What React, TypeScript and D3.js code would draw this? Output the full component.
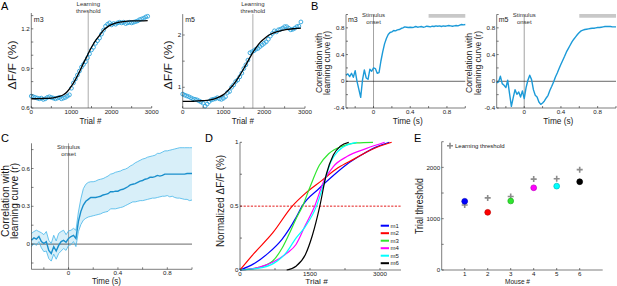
import React from 'react';
import * as d3 from 'd3';

const FONT = '"Liberation Sans", Arial, Helvetica, sans-serif';
const AX = '#262626';
const TXT = '#1a1a1a';
const BLUE = '#1b9ad8';
const TICK_FS = 6.2;

// ---------------- Panel A data ----------------
const trialGridA = d3.range(0, 2901, 50);
const fitGridA = d3.range(0, 2901, 100);
const m3DotsA = [0.69, 0.685, 0.68, 0.675, 0.67, 0.675, 0.665, 0.67, 0.68, 0.685, 0.68, 0.675, 0.67, 0.675, 0.68, 0.67, 0.675, 0.68, 0.69, 0.70,
  0.75, 0.79, 0.82, 0.85, 0.88, 0.91, 0.93, 0.95, 0.98, 1.01, 1.04, 1.06, 1.09, 1.11, 1.13, 1.16, 1.19, 1.22, 1.235, 1.245,
  1.23, 1.24, 1.235, 1.245, 1.25, 1.245, 1.25, 1.24, 1.245, 1.25, 1.245, 1.25, 1.255, 1.26, 1.27, 1.275, 1.28, 1.29, 1.295];
const m3FitA = [0.67, 0.67, 0.671, 0.672, 0.673, 0.675, 0.68, 0.688, 0.7, 0.725, 0.765, 0.815, 0.875, 0.94, 1.0, 1.06, 1.11, 1.15, 1.19, 1.215,
  1.232, 1.243, 1.25, 1.255, 1.258, 1.26, 1.26, 1.261, 1.261, 1.262];
const m5DotsA = [0.87, 0.85, 0.835, 0.82, 0.8, 0.78, 0.77, 0.76, 0.74, 0.72, 0.695, 0.64, 0.68, 0.725, 0.76, 0.77, 0.78, 0.8, 0.78, 0.77,
  0.79, 0.82, 0.9, 0.92, 1.0, 1.045, 1.11, 1.14, 1.2, 1.27, 1.36, 1.43, 1.52, 1.66, 1.68, 1.7, 1.73, 1.745, 1.78, 1.81,
  1.84, 1.87, 1.92, 1.98, 2.03, 2.08, 2.06, 2.1, 2.11, 2.13, 2.16, 2.16, 2.13, 2.1, 2.11, 2.13, 2.16, 2.17, 2.25];
const m5FitA = [0.73, 0.73, 0.73, 0.735, 0.74, 0.745, 0.75, 0.765, 0.785, 0.815, 0.86, 0.93, 1.01, 1.11, 1.23, 1.36, 1.5, 1.64, 1.76, 1.86,
  1.93, 1.99, 2.03, 2.06, 2.08, 2.1, 2.11, 2.12, 2.125, 2.13];
const m3ThresholdA = 1420;
const m5ThresholdA = 1720;

// ---------------- Panel B / C data ----------------
const timeGrid = d3.range(0, 66).map((i) => -0.3 + i * 0.02);
const m3CorrB = [0.09, 0.11, 0.07, 0.12, 0.06, 0.16, 0.0, -0.12, -0.24, 0.02, 0.17, 0.05, 0.03, 0.18, 0.15,
  0.2, 0.19, 0.12, 0.13, 0.3, 0.44, 0.56, 0.64, 0.7, 0.73, 0.74, 0.76, 0.755, 0.77, 0.775, 0.79, 0.8, 0.815, 0.81, 0.805,
  0.81, 0.805, 0.81, 0.82, 0.81, 0.815, 0.82, 0.81, 0.815, 0.825, 0.82, 0.815, 0.825, 0.82, 0.83, 0.825, 0.83, 0.82, 0.83,
  0.825, 0.83, 0.835, 0.83, 0.825, 0.83, 0.835, 0.83, 0.84, 0.85, 0.845, 0.85];
const m5CorrB = [-0.025, -0.01, 0.075, -0.035, -0.06, -0.095, 0.015, -0.185, -0.375, -0.245, -0.125, -0.195, -0.16, -0.235, -0.145,
  -0.26, -0.095, 0.015, 0.09, 0.025, -0.125, -0.21, -0.235, -0.31, -0.345, -0.325, -0.295, -0.25, -0.21, -0.135, -0.075,
  -0.01, 0.065, 0.125, 0.19, 0.255, 0.315, 0.375, 0.44, 0.49, 0.54, 0.59, 0.63, 0.665, 0.7, 0.73, 0.755, 0.765, 0.775, 0.78,
  0.785, 0.79, 0.795, 0.795, 0.8, 0.805, 0.805, 0.81, 0.815, 0.82, 0.82, 0.82, 0.82, 0.815, 0.815, 0.815];
const meanCorrC = [0.03, 0.05, 0.04, 0.06, 0.02, 0.005, 0.02, -0.05, -0.075, -0.02, -0.055, -0.01, 0.02, 0.03, 0.015,
  0.045, 0.06, 0.07, 0.045, 0.18, 0.26, 0.31, 0.34, 0.355, 0.37, 0.37, 0.37, 0.375, 0.38, 0.39, 0.395, 0.4, 0.415, 0.415, 0.42,
  0.42, 0.43, 0.435, 0.445, 0.455, 0.47, 0.475, 0.48, 0.49, 0.5, 0.505, 0.515, 0.52, 0.53, 0.53, 0.535, 0.545, 0.54, 0.545,
  0.555, 0.555, 0.555, 0.555, 0.555, 0.555, 0.555, 0.555, 0.555, 0.56, 0.56, 0.56];
const upperCorrC = [0.085, 0.1, 0.11, 0.1, 0.09, 0.075, 0.1, 0.03, 0.005, 0.07, 0.025, 0.085, 0.1, 0.11, 0.075,
  0.105, 0.11, 0.125, 0.11, 0.255, 0.36, 0.44, 0.475, 0.49, 0.495, 0.495, 0.5, 0.51, 0.515, 0.52, 0.53, 0.54, 0.555, 0.56, 0.57,
  0.575, 0.58, 0.59, 0.595, 0.605, 0.62, 0.63, 0.645, 0.655, 0.665, 0.675, 0.68, 0.69, 0.695, 0.7, 0.705, 0.72, 0.72, 0.73,
  0.74, 0.74, 0.745, 0.75, 0.755, 0.76, 0.765, 0.765, 0.765, 0.765, 0.765, 0.765];
const lowerCorrC = [-0.02, 0.005, -0.01, 0.02, -0.03, -0.06, -0.055, -0.115, -0.135, -0.08, -0.12, -0.075, -0.055, -0.035, -0.05,
  -0.01, -0.005, 0.02, -0.02, 0.1, 0.155, 0.19, 0.205, 0.215, 0.22, 0.225, 0.23, 0.235, 0.24, 0.25, 0.255, 0.26, 0.28, 0.28, 0.28,
  0.285, 0.29, 0.295, 0.305, 0.315, 0.325, 0.335, 0.335, 0.34, 0.345, 0.345, 0.35, 0.355, 0.36, 0.365, 0.365, 0.37, 0.375, 0.38,
  0.38, 0.385, 0.375, 0.38, 0.37, 0.365, 0.365, 0.36, 0.355, 0.355, 0.345, 0.35];

// ---------------- Panel D data ----------------
const m1Curve: [number, number][] = [[0, 0], [300, 0.05], [600, 0.13], [900, 0.24], [1200, 0.41], [1330, 0.5], [1700, 0.64], [2000, 0.74], [2300, 0.83], [2600, 0.9], [2900, 0.96], [3200, 1.0]];
const m2Curve: [number, number][] = [[0, 0], [300, 0.13], [700, 0.29], [1120, 0.5], [1400, 0.6], [1750, 0.7], [2100, 0.8], [2450, 0.87], [2800, 0.94], [3250, 1.0]];
const m3Curve: [number, number][] = [[0, 0], [400, 0.02], [700, 0.07], [900, 0.17], [1050, 0.28], [1200, 0.4], [1340, 0.5], [1500, 0.65], [1700, 0.82], [1900, 0.91], [2200, 0.97], [2500, 0.995], [2850, 1.0]];
const m4Curve: [number, number][] = [[0, 0], [400, 0.02], [700, 0.06], [1000, 0.13], [1200, 0.2], [1400, 0.35], [1600, 0.5], [1800, 0.7], [2000, 0.81], [2300, 0.89], [2700, 0.95], [3100, 1.0]];
const m5Curve: [number, number][] = [[0, 0], [500, 0.02], [800, 0.07], [1000, 0.14], [1200, 0.25], [1400, 0.34], [1640, 0.5], [1800, 0.68], [1950, 0.85], [2100, 0.93], [2300, 0.98], [2500, 1.0]];
const m6Curve: [number, number][] = [[1000, 0], [1200, 0.03], [1400, 0.12], [1550, 0.27], [1710, 0.5], [1850, 0.75], [2000, 0.9], [2150, 0.97], [2330, 1.0]];
const mouseNames = ['m1', 'm2', 'm3', 'm4', 'm5', 'm6'];
const mouseColors = ['#0000ff', '#ff0000', '#2ee62e', '#ff00ff', '#00ffff', '#000000'];

// ---------------- Panel E data ----------------
const mouseIds = [1, 2, 3, 4, 5, 6];
const curveThresholdE = [1339, 1124, 1345, 1602, 1634, 1720];
const learningThresholdE = [1268, 1405, 1431, 1771, 1777, 1955];

type Sc = d3.ScaleLinear<number, number>;

function XAxis({ scale, y, ticks, labels, off = 6.1 }: { scale: Sc; y: number; ticks: number[]; labels: number[]; off?: number }) {
  const [a, b] = scale.range();
  return (
    <g>
      <line x1={a} x2={b} y1={y} y2={y} stroke={AX} strokeWidth={0.6} />
      {ticks.map((t, i) => (
        <line key={i} x1={scale(t)} x2={scale(t)} y1={y} y2={y - 2} stroke={AX} strokeWidth={0.6} />
      ))}
      {labels.map((t, i) => (
        <text key={i} x={scale(t)} y={y + off} fontSize={TICK_FS} textAnchor="middle" fill={TXT}>
          {String(t)}
        </text>
      ))}
    </g>
  );
}

function YAxis({ scale, x, ticks, labels }: { scale: Sc; x: number; ticks: number[]; labels: number[] }) {
  const [a, b] = scale.range();
  return (
    <g>
      <line x1={x} x2={x} y1={a} y2={b} stroke={AX} strokeWidth={0.6} />
      {ticks.map((t, i) => (
        <line key={i} x1={x} x2={x + 2} y1={scale(t)} y2={scale(t)} stroke={AX} strokeWidth={0.6} />
      ))}
      {labels.map((t, i) => (
        <text key={i} x={x - 1.5} y={scale(t)} dy="0.35em" fontSize={TICK_FS} textAnchor="end" fill={TXT}>
          {String(t)}
        </text>
      ))}
    </g>
  );
}

function Label({ x, y, text, fs, len, rotate = false }: { x: number; y: number; text: string; fs: number; len: number; rotate?: boolean }) {
  return (
    <text transform={`translate(${x},${y})${rotate ? ' rotate(-90)' : ''}`} textAnchor="middle" fontSize={fs}
      textLength={len} lengthAdjust="spacingAndGlyphs" fill={TXT}>
      {text}
    </text>
  );
}

function TrialPanel(props: {
  left: number; right: number; top: number; bottom: number; yDomain: [number, number];
  yTicks: number[]; yLabels: number[]; dots: number[]; fit: number[]; threshold: number; mouse: string; yLabelX: number;
}) {
  const { left, right, top, bottom, yDomain, yTicks, yLabels, dots, fit, threshold, mouse, yLabelX } = props;
  const x = d3.scaleLinear().domain([0, 3000]).range([left, right]);
  const y = d3.scaleLinear().domain(yDomain).range([bottom, top]);
  const fitLine = d3.line<number>().x((_, i) => x(fitGridA[i])).y((d) => y(d)).curve(d3.curveMonotoneX);
  const tx = x(threshold);
  return (
    <g>
      <line x1={tx} x2={tx} y1={top} y2={bottom} stroke="#c4c4c4" strokeWidth={1.4} />
      <text x={tx} y={6} fontSize={6} textAnchor="middle" fill="#333">Learning</text>
      <text x={tx} y={12.6} fontSize={6} textAnchor="middle" fill="#333">threshold</text>
      {dots.map((d, i) => (
        <circle key={i} cx={x(trialGridA[i])} cy={y(d)} r={1.9} fill="none" stroke="#2aa3dd" strokeWidth={0.9} />
      ))}
      <path d={fitLine(fit) || ''} fill="none" stroke="#000" strokeWidth={1.3} />
      <XAxis scale={x} y={bottom} ticks={d3.range(0, 3001, 500)} labels={[0, 1000, 2000, 3000]} />
      <YAxis scale={y} x={left} ticks={yTicks} labels={yLabels} />
      <text x={left + 2.5} y={22} fontSize={7} fill={TXT}>{mouse}</text>
      <Label x={yLabelX} y={65} text="ΔF/F (%)" fs={11} len={49} rotate />
      <Label x={(left + right) / 2 - 1} y={124.3} text="Trial #" fs={9.3} len={22} />
    </g>
  );
}

function CorrPanel(props: { left: number; right: number; values: number[]; mouse: string; labX1: number; labX2: number }) {
  const { left, right, values, mouse, labX1, labX2 } = props;
  const top = 14.5, bottom = 108;
  const x = d3.scaleLinear().domain([-0.3, 1.0]).range([left, right]);
  const y = d3.scaleLinear().domain([-0.4, 1.0]).range([bottom, top]);
  const ln = d3.line<number>().x((_, i) => x(timeGrid[i])).y((d) => y(d));
  return (
    <g>
      <line x1={x(0.6)} x2={x(1.0)} y1={15.8} y2={15.8} stroke="#c8c8c8" strokeWidth={3.8} />
      <line x1={x(0)} x2={x(0)} y1={top} y2={bottom} stroke="#8a8a8a" strokeWidth={0.8} />
      <line x1={left} x2={right} y1={y(0)} y2={y(0)} stroke="#000" strokeWidth={0.6} />
      <path d={ln(values) || ''} fill="none" stroke={BLUE} strokeWidth={1.4} strokeLinejoin="round" />
      <XAxis scale={x} y={bottom} ticks={[-0.2, 0, 0.2, 0.4, 0.6, 0.8, 1.0]} labels={[0, 0.4, 0.8]} />
      <YAxis scale={y} x={left} ticks={[-0.4, -0.2, 0, 0.2, 0.4, 0.6, 0.8, 1.0]} labels={[-0.4, 0, 0.4, 0.8]} />
      <text x={x(0)} y={17} fontSize={6} textAnchor="middle" fill="#333">Stimulus</text>
      <text x={x(0)} y={23.5} fontSize={6} textAnchor="middle" fill="#333">onset</text>
      <text x={left + 2} y={22} fontSize={7} fill={TXT}>{mouse}</text>
      <Label x={labX1} y={63} text="Correlation with" fs={9.5} len={60} rotate />
      <Label x={labX2} y={63} text="learning curve (r)" fs={9.5} len={64} rotate />
      <Label x={(left + right) / 2 + 2} y={123.6} text="Time (s)" fs={8.8} len={30} />
    </g>
  );
}

function PanelC() {
  const left = 31.5, right = 192, top = 143.3, bottom = 269.3;
  const x = d3.scaleLinear().domain([-0.3, 1.0]).range([left, right]);
  const y = d3.scaleLinear().domain([-0.2, 0.8]).range([bottom, top]);
  const ln = d3.line<number>().x((_, i) => x(timeGrid[i])).y((d) => y(d));
  const area = d3.area<number>().x((_, i) => x(timeGrid[i])).y0((_, i) => y(lowerCorrC[i])).y1((d) => y(d));
  return (
    <g>
      <path d={area(upperCorrC) || ''} fill="#d8eff9" />
      <line x1={x(0)} x2={x(0)} y1={top} y2={bottom} stroke="#8a8a8a" strokeWidth={0.8} />
      <line x1={left} x2={right} y1={y(0)} y2={y(0)} stroke="#000" strokeWidth={0.6} />
      <path d={ln(upperCorrC) || ''} fill="none" stroke="#45b6ea" strokeWidth={0.8} />
      <path d={ln(lowerCorrC) || ''} fill="none" stroke="#45b6ea" strokeWidth={0.8} />
      <path d={ln(meanCorrC) || ''} fill="none" stroke="#1a8fcc" strokeWidth={1.4} />
      <XAxis scale={x} y={bottom} ticks={[-0.2, 0, 0.2, 0.4, 0.6, 0.8, 1.0]} labels={[0, 0.4, 0.8]} off={5.7} />
      <YAxis scale={y} x={left} ticks={[-0.15, 0, 0.15, 0.3, 0.45, 0.6, 0.75]} labels={[0, 0.3, 0.6]} />
      <text x={x(0)} y={149} fontSize={6} textAnchor="middle" fill="#333">Stimulus</text>
      <text x={x(0)} y={155.5} fontSize={6} textAnchor="middle" fill="#333">onset</text>
      <Label x={9} y={201} text="Correlation with" fs={10.5} len={72} rotate />
      <Label x={18} y={201} text="learning curve (r)" fs={10.5} len={76} rotate />
      <Label x={106.5} y={283.8} text="Time (s)" fs={8.2} len={29} />
    </g>
  );
}

function PanelD() {
  const left = 240, right = 401, top = 142.3, bottom = 270;
  const x = d3.scaleLinear().domain([0, 3450]).range([left, right]);
  const y = d3.scaleLinear().domain([0, 1]).range([bottom, top]);
  const ln = d3.line<[number, number]>().x((d) => x(d[0])).y((d) => y(d[1])).curve(d3.curveMonotoneX);
  const curves = [m1Curve, m2Curve, m3Curve, m4Curve, m5Curve, m6Curve];
  const legendY = [225.7, 233.2, 240.7, 248.2, 255.7, 263.2];
  return (
    <g>
      <line x1={left} x2={right} y1={y(0.5)} y2={y(0.5)} stroke="#e00000" strokeWidth={0.9} strokeDasharray="2.2,1.4" />
      {curves.map((c, i) => (
        <path key={i} d={ln(c) || ''} fill="none" stroke={mouseColors[i]} strokeWidth={1.2} />
      ))}
      <XAxis scale={x} y={bottom} ticks={[0, 750, 1500, 2250, 3000]} labels={[0, 1500, 3000]} off={5.6} />
      <YAxis scale={y} x={left} ticks={[0, 0.25, 0.5, 0.75, 1]} labels={[0, 0.5, 1]} />
      {mouseNames.map((m, i) => (
        <g key={m}>
          <line x1={380.7} x2={389} y1={legendY[i]} y2={legendY[i]} stroke={mouseColors[i]} strokeWidth={2} />
          <text x={390.5} y={legendY[i]} dy="0.35em" fontSize={6} fill={TXT}>{m}</text>
        </g>
      ))}
      <Label x={223.5} y={201} text="Normalized ΔF/F (%)" fs={10.5} len={92} rotate />
      <Label x={316.5} y={284.2} text="Trial #" fs={8} len={22.5} />
    </g>
  );
}

function PanelE() {
  const left = 441.7, right = 602.7, top = 141.7, bottom = 270;
  const x = d3.scaleLinear().domain([0, 7]).range([left, right]);
  const y = d3.scaleLinear().domain([0, 2500]).range([bottom, top]);
  const plus = 'M-3,0H3M0,-3V3';
  return (
    <g>
      <XAxis scale={x} y={bottom} ticks={mouseIds} labels={mouseIds} off={5.6} />
      <YAxis scale={y} x={left} ticks={[0, 500, 1000, 1500, 2000, 2500]} labels={[0, 1000, 2000]} />
      {learningThresholdE.map((v, i) => (
        <path key={'p' + i} d={plus} transform={`translate(${x(mouseIds[i])},${y(v)})`} stroke="#8c8c8c" strokeWidth={1.6} />
      ))}
      {curveThresholdE.map((v, i) => (
        <circle key={'c' + i} cx={x(mouseIds[i])} cy={y(v)} r={2.9} fill={mouseColors[i]} stroke={d3.color(mouseColors[i])!.darker(0.8).toString()} strokeWidth={0.7} />
      ))}
      <path d={plus} transform="translate(450,145.7)" stroke="#8c8c8c" strokeWidth={1.6} />
      <text x={455} y={145.7} dy="0.35em" fontSize={6} fill={TXT}>Learning threshold</text>
      <Label x={422.5} y={206} text="Trial threshold" fs={10} len={56} rotate />
      <Label x={517.5} y={284.2} text="Mouse #" fs={8} len={25} />
    </g>
  );
}

export default function App() {
  return (
    <svg width={617} height={286} style={{ position: 'absolute', left: 0, top: 0 }} fontFamily={FONT}>
      <rect width={617} height={286} fill="#fff" />
      <text x={1} y={10} fontSize={11} fill="#000">A</text>
      <text x={311} y={9.5} fontSize={11} fill="#000">B</text>
      <text x={1} y={142} fontSize={11} fill="#000">C</text>
      <text x={205} y={142} fontSize={11} fill="#000">D</text>
      <text x={414} y={142} fontSize={11} fill="#000">E</text>
      <TrialPanel left={31.3} right={151.7} top={13} bottom={108} yDomain={[0.6, 1.32]}
        yTicks={[0.6, 0.7, 0.8, 0.9, 1.0, 1.1, 1.2, 1.3]} yLabels={[0.6, 0.9, 1.2]}
        dots={m3DotsA} fit={m3FitA} threshold={m3ThresholdA} mouse="m3" yLabelX={15.5} />
      <TrialPanel left={182.7} right={305} top={14.1} bottom={108.2} yDomain={[0.6, 2.4]}
        yTicks={[1, 1.5, 2]} yLabels={[1, 2]}
        dots={m5DotsA} fit={m5FitA} threshold={m5ThresholdA} mouse="m5" yLabelX={172} />
      <CorrPanel left={346} right={465.3} values={m3CorrB} mouse="m3" labX1={321.5} labX2={330} />
      <CorrPanel left={496.7} right={616} values={m5CorrB} mouse="m5" labX1={472.2} labX2={480.7} />
      <PanelC />
      <PanelD />
      <PanelE />
    </svg>
  );
}
